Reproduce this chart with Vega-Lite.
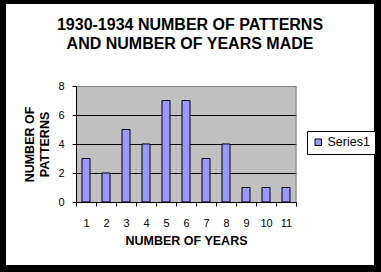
{
  "$schema": "https://vega.github.io/schema/vega-lite/v6.json",
  "width": 368,
  "height": 261,
  "autosize": {"type": "none"},
  "padding": {"left": 6, "top": 4, "right": 7, "bottom": 7},
  "background": "black",
  "title": {
    "text": ["1930-1934 NUMBER OF PATTERNS", "AND NUMBER OF YEARS MADE"],
    "fontSize": 16,
    "fontWeight": "bold",
    "color": "black",
    "anchor": "middle",
    "frame": "group",
    "lineHeight": 19,
    "offset": -48
  },
  "config": {
    "font": "Liberation Sans",
    "view": {"fill": "white", "stroke": null},
    "axisY": {"titleLineHeight": 15}
  },
  "data": {
    "values": [
      {"years": 1, "patterns": 3, "series": "Series1"},
      {"years": 2, "patterns": 2, "series": "Series1"},
      {"years": 3, "patterns": 5, "series": "Series1"},
      {"years": 4, "patterns": 4, "series": "Series1"},
      {"years": 5, "patterns": 7, "series": "Series1"},
      {"years": 6, "patterns": 7, "series": "Series1"},
      {"years": 7, "patterns": 3, "series": "Series1"},
      {"years": 8, "patterns": 4, "series": "Series1"},
      {"years": 9, "patterns": 1, "series": "Series1"},
      {"years": 10, "patterns": 1, "series": "Series1"},
      {"years": 11, "patterns": 1, "series": "Series1"}
    ]
  },
  "layer": [
    {
      "transform": [{"filter": "datum.years == 11"}],
      "mark": {"type": "rule", "color": "#808080", "strokeWidth": 1},
      "encoding": {
        "x": {
          "field": "years", "type": "ordinal", "bandPosition": 1,
          "scale": {"type": "band", "domain": [1,2,3,4,5,6,7,8,9,10,11], "range": [70, 290], "paddingInner": 0, "paddingOuter": 0},
          "axis": {
            "orient": "bottom", "offset": -63, "title": "NUMBER OF YEARS",
            "tickBand": "extent", "grid": false, "labelAngle": 0,
            "domainColor": "black", "tickColor": "black", "tickSize": 4,
            "labelFontSize": 11, "labelColor": "black", "labelPadding": 11,
            "titleFontSize": 12.5, "titleFontWeight": "bold", "titleColor": "black", "titlePadding": 6
          }
        },
        "y": {
          "datum": 0, "type": "quantitative",
          "scale": {"domain": [0, 8], "range": [198, 82], "nice": false},
          "axis": {
            "orient": "left", "offset": -70, "values": [4], "grid": true, "gridColor": "#C0C0C0", "gridWidth": 116,
            "domain": false, "ticks": false, "labels": false, "title": null
          }
        },
        "y2": {"datum": 8}
      }
    },
    {
      "mark": {"type": "bar", "stroke": "black", "strokeWidth": 1, "width": {"band": 0.4}},
      "encoding": {
        "x": {
          "field": "years", "type": "ordinal",
          "scale": {"type": "band", "domain": [1,2,3,4,5,6,7,8,9,10,11], "range": [70, 290], "paddingInner": 0, "paddingOuter": 0},
          "axis": {
            "orient": "bottom", "offset": -63, "title": "NUMBER OF YEARS",
            "tickBand": "extent", "grid": false, "labelAngle": 0,
            "domainColor": "black", "tickColor": "black", "tickSize": 4,
            "labelFontSize": 11, "labelColor": "black", "labelPadding": 11,
            "titleFontSize": 12.5, "titleFontWeight": "bold", "titleColor": "black", "titlePadding": 6
          }
        },
        "y": {
          "field": "patterns", "type": "quantitative",
          "scale": {"domain": [0, 8], "range": [198, 82], "nice": false},
          "axis": {
            "orient": "left", "offset": -70, "values": [0, 2, 4, 6, 8],
            "title": ["NUMBER OF", "PATTERNS"],
            "grid": true,
            "gridColor": {"condition": {"test": "datum.value === 8", "value": "#808080"}, "value": "black"},
            "domainColor": "black", "tickColor": "black", "tickSize": 4,
            "labelFontSize": 11, "labelColor": "black", "labelPadding": 8,
            "titleFontSize": 12.5, "titleFontWeight": "bold", "titleColor": "black",
            "titlePadding": 6, "titleLineHeight": 15
          }
        },
        "color": {
          "field": "series", "type": "nominal",
          "scale": {"range": ["#9999FF"]},
          "legend": {
            "orient": "none", "legendX": 301, "legendY": 127, "title": null,
            "fillColor": "white", "strokeColor": "black", "padding": 5,
            "symbolType": "square", "symbolSize": 42, "symbolStrokeColor": "black", "symbolStrokeWidth": 1, "symbolOpacity": 1,
            "labelFontSize": 12.5, "labelColor": "black", "labelOffset": 3
          }
        }
      }
    }
  ],
  "resolve": {"axis": {"y": "independent"}}
}
